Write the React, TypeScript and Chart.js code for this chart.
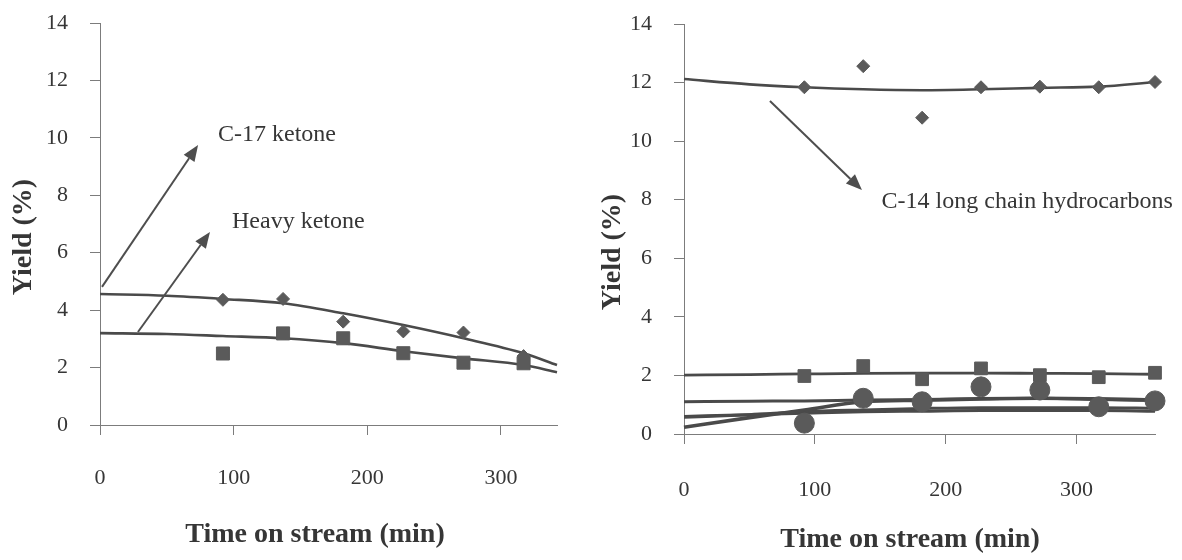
import React, { useEffect, useRef } from 'react';
import { Chart, registerables } from 'chart.js';

Chart.register(...registerables);

// ---------- Left panel data ----------
const timeLeft = [92, 137, 182, 227, 272, 317];
const c17Ketone = [4.36, 4.39, 3.6, 3.26, 3.22, 2.4];
const heavyKetone = [2.49, 3.19, 3.02, 2.5, 2.17, 2.15];
const fitTimeLeft = [0, 50, 92, 137, 182, 227, 272, 317, 342];
const c17Fit = [4.56, 4.5, 4.39, 4.24, 3.89, 3.48, 3.02, 2.5, 2.09];
const heavyFit = [3.2, 3.17, 3.1, 3.02, 2.85, 2.57, 2.32, 2.09, 1.84];

// ---------- Right panel data ----------
const timeRight = [92, 137, 182, 227, 272, 317, 360];
const c14Hydrocarbons = [11.84, 12.56, 10.8, 11.84, 11.86, 11.84, 12.02];
const squareSeries = [1.98, 2.32, 1.87, 2.24, 2.01, 1.94, 2.09];
const circleSeries = [0.37, 1.22, 1.1, 1.61, 1.5, 0.93, 1.13];
const fitTimeRight = [0, 50, 92, 137, 182, 227, 272, 317, 360];
const c14Fit = [12.12, 11.94, 11.84, 11.77, 11.74, 11.77, 11.82, 11.86, 12.02];
const squareFit = [2.01, 2.03, 2.05, 2.07, 2.08, 2.08, 2.07, 2.06, 2.04];
const flatFit = [1.1, 1.12, 1.13, 1.16, 1.18, 1.2, 1.22, 1.18, 1.14];
const curvedFit = [0.23, 0.56, 0.82, 1.1, 1.15, 1.2, 1.22, 1.2, 1.16];
const lowerFitA = [0.57, 0.66, 0.76, 0.82, 0.87, 0.9, 0.9, 0.9, 0.88];
const lowerFitB = [0.6, 0.66, 0.71, 0.76, 0.78, 0.8, 0.8, 0.8, 0.78];

// ---------- Axis text ----------
const yTicks = [0, 2, 4, 6, 8, 10, 12, 14];
const xTickStep = 100;
const xTitle = 'Time on stream (min)';
const yTitle = 'Yield (%)';

const FONT = '"Liberation Serif", "Times New Roman", serif';
const TEXT = '#363636';
const AXIS = '#7c7c7c';
const MARK = '#5a5a5a';
const LINE = '#4a4a4a';

const pts = (xs: number[], ys: number[]) => xs.map((x, i) => ({ x, y: ys[i] }));

function markerSet(xs: number[], ys: number[], style: string, r: number) {
  return {
    data: pts(xs, ys),
    showLine: false,
    pointStyle: style,
    pointRadius: r,
    pointBackgroundColor: MARK,
    pointBorderColor: MARK,
    pointBorderWidth: 1,
    clip: false,
    order: 0,
  };
}

function fitSet(xs: number[], ys: number[], w: number) {
  return {
    data: pts(xs, ys),
    showLine: true,
    borderColor: LINE,
    borderWidth: w,
    pointRadius: 0,
    cubicInterpolationMode: 'monotone',
    fill: false,
    clip: 4,
    order: 5,
  };
}

type Ann = {
  arrows: { from: [number, number]; to: [number, number] }[];
  labels: { text: string; x: number; y: number }[];
  xTitlePos: [number, number];
  yTitlePos: [number, number];
};

function annotate(spec: Ann) {
  return {
    id: 'annot',
    afterDraw(chart: any) {
      const ctx = chart.ctx;
      const xs = chart.scales.x;
      const ys = chart.scales.y;
      ctx.save();
      ctx.strokeStyle = '#4e4e4e';
      ctx.fillStyle = '#4e4e4e';
      ctx.lineWidth = 2;
      for (const a of spec.arrows) {
        const x1 = xs.getPixelForValue(a.from[0]);
        const y1 = ys.getPixelForValue(a.from[1]);
        const x2 = xs.getPixelForValue(a.to[0]);
        const y2 = ys.getPixelForValue(a.to[1]);
        const ang = Math.atan2(y2 - y1, x2 - x1);
        const L = 16;
        const H = 6.5;
        const bx = x2 - L * Math.cos(ang);
        const by = y2 - L * Math.sin(ang);
        ctx.beginPath();
        ctx.moveTo(x1, y1);
        ctx.lineTo(bx, by);
        ctx.stroke();
        ctx.beginPath();
        ctx.moveTo(x2, y2);
        ctx.lineTo(bx + H * Math.sin(ang), by - H * Math.cos(ang));
        ctx.lineTo(bx - H * Math.sin(ang), by + H * Math.cos(ang));
        ctx.closePath();
        ctx.fill();
      }
      ctx.fillStyle = TEXT;
      ctx.font = `24px ${FONT}`;
      ctx.textAlign = 'left';
      ctx.textBaseline = 'middle';
      for (const l of spec.labels) {
        ctx.fillText(l.text, xs.getPixelForValue(l.x), ys.getPixelForValue(l.y));
      }
      ctx.font = `bold 28px ${FONT}`;
      ctx.textAlign = 'center';
      ctx.fillText(xTitle, spec.xTitlePos[0], spec.xTitlePos[1]);
      ctx.translate(spec.yTitlePos[0], spec.yTitlePos[1]);
      ctx.rotate(-Math.PI / 2);
      ctx.fillText(yTitle, 0, 0);
      ctx.restore();
    },
  };
}

function scales(xMax: number, xHeight: number, xPad: number) {
  const grid = { display: true, drawOnChartArea: false, drawTicks: true, tickLength: 10, color: AXIS, lineWidth: 1 };
  return {
    x: {
      type: 'linear',
      min: 0,
      max: xMax,
      ticks: {
        stepSize: xTickStep,
        includeBounds: false,
        maxRotation: 0,
        padding: xPad,
        color: TEXT,
        font: { family: FONT, size: 22 },
      },
      afterBuildTicks: (s: any) => {
        s.ticks = s.ticks.filter((t: any) => t.value % xTickStep === 0);
      },
      grid,
      border: { display: true, color: AXIS, width: 1 },
      afterFit: (s: any) => {
        s.height = xHeight;
        s.paddingLeft = 0;
        s.paddingRight = 0;
      },
    },
    y: {
      type: 'linear',
      min: yTicks[0],
      max: yTicks[yTicks.length - 1],
      ticks: {
        stepSize: yTicks[1] - yTicks[0],
        padding: 22,
        color: TEXT,
        font: { family: FONT, size: 22 },
      },
      grid,
      border: { display: true, color: AXIS, width: 1 },
      afterFit: (s: any) => {
        s.width = 60;
        s.paddingTop = 0;
        s.paddingBottom = 0;
      },
    },
  };
}

function ChartCanvas({ config, left }: { config: () => any; left: number }) {
  const ref = useRef<HTMLCanvasElement | null>(null);
  useEffect(() => {
    if (!ref.current) return;
    const chart = new Chart(ref.current, config());
    return () => chart.destroy();
  }, []);
  return (
    <canvas
      ref={ref}
      width={591}
      height={560}
      style={{ position: 'absolute', left, top: 0, width: 591, height: 560, display: 'block' }}
    />
  );
}

const leftConfig = () => ({
  type: 'scatter',
  data: {
    datasets: [
      markerSet(timeLeft, c17Ketone, 'rectRot', 6.5),
      markerSet(timeLeft, heavyKetone, 'rect', 9.2),
      fitSet(fitTimeLeft, c17Fit, 2.6),
      fitSet(fitTimeLeft, heavyFit, 2.6),
    ],
  },
  options: {
    responsive: false,
    animation: false,
    devicePixelRatio: 1,
    layout: { padding: { left: 40, right: 34, top: 23, bottom: 0 } },
    plugins: { legend: { display: false }, tooltip: { enabled: false }, title: { display: false } },
    scales: scales(342, 135, 30),
  },
  plugins: [
    annotate({
      arrows: [
        { from: [1.5, 4.81], to: [73.4, 9.75] },
        { from: [28.4, 3.24], to: [82.3, 6.72] },
      ],
      labels: [
        { text: 'C-17 ketone', x: 88.3, y: 10.1 },
        { text: 'Heavy ketone', x: 98.8, y: 7.07 },
      ],
      xTitlePos: [315, 535],
      yTitlePos: [24, 237],
    }),
  ],
});

const rightConfig = () => ({
  type: 'scatter',
  data: {
    datasets: [
      markerSet(timeRight, c14Hydrocarbons, 'rectRot', 6.5),
      markerSet(timeRight, squareSeries, 'rect', 9),
      markerSet(timeRight, circleSeries, 'circle', 10),
      fitSet(fitTimeRight, c14Fit, 2.6),
      fitSet(fitTimeRight, squareFit, 2.8),
      fitSet(fitTimeRight, flatFit, 3),
      fitSet(fitTimeRight, curvedFit, 3.6),
      fitSet(fitTimeRight, lowerFitA, 3),
      fitSet(fitTimeRight, lowerFitB, 3),
    ],
  },
  options: {
    responsive: false,
    animation: false,
    devicePixelRatio: 1,
    layout: { padding: { left: 33, right: 27, top: 24, bottom: 0 } },
    plugins: { legend: { display: false }, tooltip: { enabled: false }, title: { display: false } },
    scales: scales(360, 126, 33),
  },
  plugins: [
    annotate({
      arrows: [{ from: [65.7, 11.37], to: [136, 8.33] }],
      labels: [{ text: 'C-14 long chain hydrocarbons', x: 151, y: 7.92 }],
      xTitlePos: [319, 540],
      yTitlePos: [22, 252],
    }),
  ],
});

export default function App() {
  return (
    <div style={{ position: 'absolute', left: 0, top: 0, width: 1182, height: 560, background: '#ffffff' }}>
      <ChartCanvas config={leftConfig} left={0} />
      <ChartCanvas config={rightConfig} left={591} />
    </div>
  );
}
